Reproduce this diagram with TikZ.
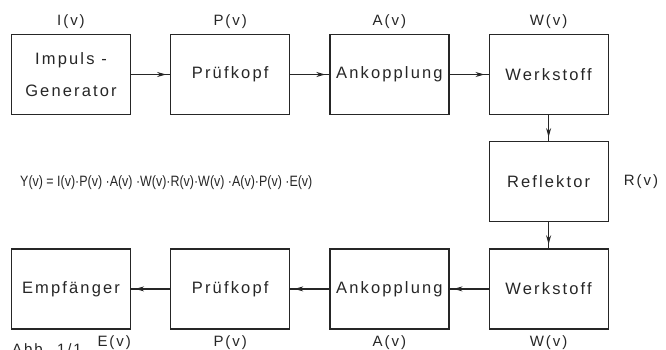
\documentclass[tikz,border=0pt]{standalone}
\usepackage{fontspec}
\setmainfont{Liberation Sans}
\newfontfamily\blockfont[LetterSpace=13]{Liberation Sans}
\newfontfamily\formulafont[FakeStretch=0.83]{Liberation Sans}
\usetikzlibrary{arrows.meta,positioning,decorations.markings}
\definecolor{Ink}{HTML}{262626}
\tikzset{
  block/.style={draw=Ink, line width=1.2pt, minimum width=119pt, minimum height=80pt, align=center, inner sep=0pt, text=Ink, font=\blockfont\fontsize{16.5}{32}\selectfont},
  spectrum/.style={inner sep=0pt, text=Ink, font=\blockfont\fontsize{15}{18}\selectfont},
  formula/.style={inner sep=0pt, text=Ink, font=\formulafont\fontsize{15}{18}\selectfont},
  signal/.style={draw=Ink, line width=1.2pt, postaction={decorate},
    decoration={markings, mark=at position -4pt with {\arrow{Stealth[length=9pt,width=5pt]}}}}
}
\begin{document}
\begin{tikzpicture}[x=1pt, y=1pt, node distance=26pt and 39pt]
  \path[use as bounding box] (0,0) rectangle (666,-349);

  % forward path
  \node[block] (gen) at (71,-74.5) {Impuls -\\Generator};
  \node[block, right=of gen] (probe) {Prüfkopf};
  \node[block, right=of probe] (coupling) {Ankopplung};
  \node[block, right=of coupling] (material) {Werkstoff};
  \node[block, below=of material] (reflector) {Reflektor};
  % return path
  \node[block, below=of reflector] (materialback) {Werkstoff};
  \node[block, left=of materialback] (couplingback) {Ankopplung};
  \node[block, left=of couplingback] (probeback) {Prüfkopf};
  \node[block, left=of probeback] (receiver) {Empfänger};

  \node[spectrum, above=5pt of gen] (Igen) {I(v)};
  \node[spectrum, above=5pt of probe] (Pprobe) {P(v)};
  \node[spectrum, above=5pt of coupling] (Acoupling) {A(v)};
  \node[spectrum, above=5pt of material] (Wmaterial) {W(v)};
  \node[spectrum, right=15pt of reflector] (Rreflector) {R(v)};
  \node[spectrum, below=6pt of materialback] (Wmaterialback) {W(v)};
  \node[spectrum, below=6pt of couplingback] (Acouplingback) {A(v)};
  \node[spectrum, below=6pt of probeback] (Pprobeback) {P(v)};
  \node[spectrum, below left=6pt and 0pt of receiver.south east] (Ereceiver) {E(v)};
  \node[spectrum, anchor=north west] (caption) at (12,-343) {Abb. 1/1};

  \node[formula, anchor=west] (transfer) at (20,-183)
    {Y(v) = I(v)·P(v) ·A(v) ·W(v)·R(v)·W(v) ·A(v)·P(v) ·E(v)};

  \draw[signal] (gen) -- (probe);
  \draw[signal] (probe) -- (coupling);
  \draw[signal] (coupling) -- (material);
  \draw[signal] (material) -- (reflector);
  \draw[signal] (reflector) -- (materialback);
  \draw[signal] (materialback) -- (couplingback);
  \draw[signal] (couplingback) -- (probeback);
  \draw[signal] (probeback) -- (receiver);
\end{tikzpicture}
\end{document}
